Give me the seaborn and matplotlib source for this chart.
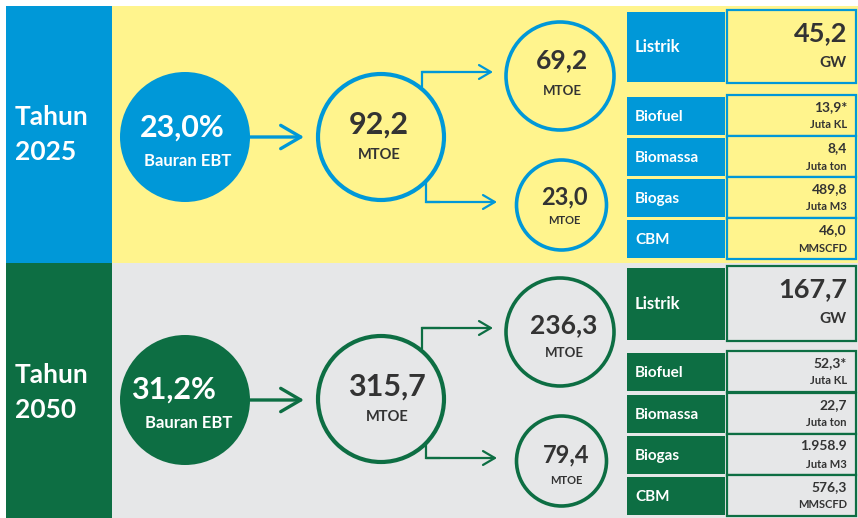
import matplotlib
matplotlib.use("Agg")
import matplotlib.pyplot as plt
from matplotlib.patches import Rectangle, Circle
import seaborn as sns

# values shown in the infographic
years = ["2025", "2050"]
bauran = ["23,0%", "31,2%"]
total_mtoe = ["92,2", "315,7"]
upper_mtoe = ["69,2", "236,3"]
lower_mtoe = ["23,0", "79,4"]
listrik_gw = ["45,2", "167,7"]
items = ["Biofuel", "Biomassa", "Biogas", "CBM"]
units = ["Juta KL", "Juta ton", "Juta M3", "MMSCFD"]
item_values = [["13,9*", "8,4", "489,8", "46,0"],
               ["52,3*", "22,7", "1.958.9", "576,3"]]

# styling per panel
accent = ["#0098d8", "#0d6e43"]
panel_bg = ["#fff48d", "#e6e7e8"]
dark = "#333333"

sns.set_theme(style="white")
plt.rcParams["font.family"] = ["Lato", "DejaVu Sans"]

fig = plt.figure(figsize=(8.58, 5.18), dpi=100)
ax = fig.add_axes([0, 0, 1, 1])
ax.set_xlim(0, 858)
ax.set_ylim(518, 0)
ax.axis("off")

# layout (pixels)
panel_top = [6, 263]
panel_bot = [263, 518]
main_y = [137, 400]
mid_y = [137, 399]
up_y = [76, 332]
lo_y = [205, 461]
pct_txt = [(182, 128), (173, 390)]
ebt_txt = [(188, 161), (189, 423)]
tot_txt = [(379, 125, 155), (387, 387, 417)]
up_txt = [(562, 60, 91), (564, 325, 353)]
lo_txt = [(564, 197, 220), (566, 455, 480)]
tahun_y = [(117, 152), (375, 410)]
listrik_box = [(12, 82), (268, 340)]
row_tops = [[97, 138, 179, 220], [353, 395, 436, 477]]
row_h = 38

for i in range(2):
    c = accent[i]
    top, bot = panel_top[i], panel_bot[i]
    ax.add_patch(Rectangle((112, top), 746, bot - top, color=panel_bg[i], lw=0))
    ax.add_patch(Rectangle((6, top), 106, bot - top, color=c, lw=0))

    ax.text(15, tahun_y[i][0], "Tahun", color="white", fontsize=19,
            fontweight="bold", va="center", ha="left")
    ax.text(15, tahun_y[i][1], years[i], color="white", fontsize=19,
            fontweight="bold", va="center", ha="left")

    # filled circle with EBT share
    ax.add_patch(Circle((185, main_y[i]), 65, color=c, lw=0))
    ax.text(*pct_txt[i], bauran[i], color="white", fontsize=22,
            fontweight="bold", ha="center", va="center")
    ax.text(*ebt_txt[i], "Bauran EBT", color="white", fontsize=12,
            fontweight="bold", ha="center", va="center")

    ax.annotate("", xy=(304, main_y[i]), xytext=(250, main_y[i]),
                arrowprops=dict(arrowstyle="->,head_length=0.72,head_width=0.42",
                                color=c, lw=2.4, mutation_scale=20,
                                shrinkA=0, shrinkB=0))

    # total energy circle
    ax.add_patch(Circle((381, mid_y[i]), 63, fill=False, ec=c, lw=3))
    x, y1, y2 = tot_txt[i]
    ax.text(x, y1, total_mtoe[i], color=dark, fontsize=22, fontweight="bold",
            ha="center", va="center")
    ax.text(x, y2, "MTOE", color=dark, fontsize=10.5, fontweight="bold",
            ha="center", va="center")

    # branches
    ax.plot([422, 422, 440], [mid_y[i] - 50, up_y[i] - 4, up_y[i] - 4], color=c, lw=1.6,
            solid_joinstyle="miter")
    ax.annotate("", xy=(493, up_y[i] - 4), xytext=(422, up_y[i] - 4),
                arrowprops=dict(arrowstyle="->,head_length=0.85,head_width=0.5",
                                color=c, lw=1.6, mutation_scale=10,
                                shrinkA=0, shrinkB=0))
    ax.plot([426, 426, 440], [mid_y[i] + 45, lo_y[i] - 3, lo_y[i] - 3], color=c, lw=1.6,
            solid_joinstyle="miter")
    ax.annotate("", xy=(497, lo_y[i] - 3), xytext=(426, lo_y[i] - 3),
                arrowprops=dict(arrowstyle="->,head_length=0.85,head_width=0.5",
                                color=c, lw=1.6, mutation_scale=10,
                                shrinkA=0, shrinkB=0))

    ax.add_patch(Circle((560, up_y[i]), 54, fill=False, ec=c, lw=2.6))
    x, y1, y2 = up_txt[i]
    ax.text(x, y1, upper_mtoe[i], color=dark, fontsize=19, fontweight="bold",
            ha="center", va="center")
    ax.text(x, y2, "MTOE", color=dark, fontsize=9.5, fontweight="bold",
            ha="center", va="center")

    ax.add_patch(Circle((561.5, lo_y[i]), 45, fill=False, ec=c, lw=2.6))
    x, y1, y2 = lo_txt[i]
    ax.text(x, y1, lower_mtoe[i], color=dark, fontsize=17, fontweight="bold",
            ha="center", va="center")
    ax.text(x, y2, "MTOE", color=dark, fontsize=8, fontweight="bold",
            ha="center", va="center")

    # Listrik box
    t, b = listrik_box[i]
    ax.add_patch(Rectangle((627, t), 98, b - t, color=c, lw=0))
    ax.add_patch(Rectangle((727, t - 2), 129, b - t + 3, fc=panel_bg[i], ec=c, lw=1.6))
    ax.text(635, (t + b) / 2, "Listrik", color="white", fontsize=12,
            fontweight="bold", ha="left", va="center")
    ax.text(847, t + 21, listrik_gw[i], color=dark, fontsize=19.5,
            fontweight="bold", ha="right", va="center")
    ax.text(847, t + 51, "GW", color=dark, fontsize=11,
            fontweight="bold", ha="right", va="center")

    # other items
    for k, name in enumerate(items):
        rt = row_tops[i][k]
        ax.add_patch(Rectangle((627, rt), 98, row_h, color=c, lw=0))
        ax.add_patch(Rectangle((727, rt - 2), 129, row_h + 3, fc=panel_bg[i], ec=c, lw=1.6))
        ax.text(635, rt + row_h / 2 + 1, name, color="white", fontsize=11,
                fontweight="bold", ha="left", va="center")
        ax.text(847, rt + 10, item_values[i][k], color=dark, fontsize=10,
                fontweight="bold", ha="right", va="center")
        ax.text(847, rt + 28, units[k], color=dark, fontsize=8,
                fontweight="bold", ha="right", va="center")

fig.savefig("out.png", dpi=100, facecolor="white")
